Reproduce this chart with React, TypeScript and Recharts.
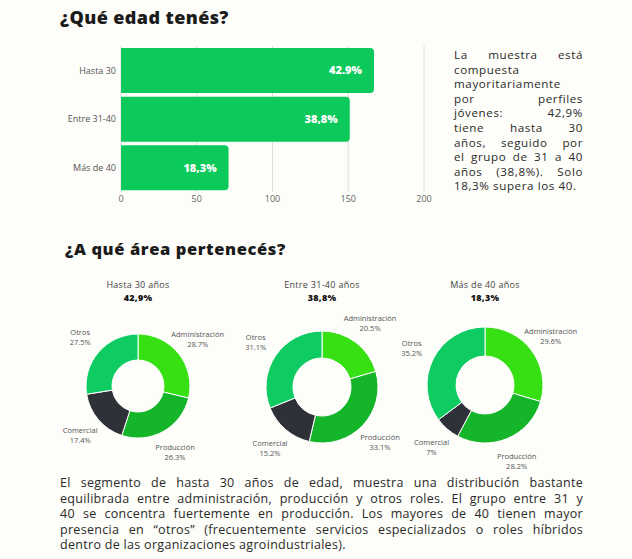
import { Bar, BarChart, CartesianGrid, LabelList, Pie, PieChart, Cell, XAxis, YAxis } from "recharts";

const FONT = "'Open Sans', sans-serif";

// edades
const ageCategories = ["Hasta 30", "Entre 31-40", "Más de 40"];
const ageCounts = [167, 151, 71];
const ageLabels = ["42.9%", "38,8%", "18,3%"];
const xTicks = [0, 50, 100, 150, 200];

// áreas por grupo
const areaNames = ["Administración", "Producción", "Comercial", "Otros"];
const areaColors = ["#36e013", "#15b52a", "#2e3238", "#0ecb62"];
const hasta30 = [28.7, 26.3, 17.4, 27.5];
const entre31a40 = [20.5, 33.1, 15.2, 31.1];
const masDe40 = [29.6, 28.2, 7, 35.2];
const groupTitles = ["Hasta 30 años", "Entre 31-40 años", "Más de 40 años"];
const groupShares = ["42,9%", "38,8%", "18,3%"];

const sideLines = [
  "La muestra está",
  "compuesta",
  "mayoritariamente",
  "por perfiles",
  "jóvenes: 42,9%",
  "tiene hasta 30",
  "años, seguido por",
  "el grupo de 31 a 40",
  "años (38,8%). Solo",
  "18,3% supera los 40.",
];

const bottomLines = [
  "El segmento de hasta 30 años de edad, muestra una distribución bastante",
  "equilibrada entre administración, producción y otros roles. El grupo entre 31 y",
  "40 se concentra fuertemente en producción. Los mayores de 40 tienen mayor",
  "presencia en “otros” (frecuentemente servicios especializados o roles híbridos",
  "dentro de las organizaciones agroindustriales).",
];

const barData = ageCategories.map((c, i) => ({ name: c, value: ageCounts[i], label: ageLabels[i] }));
const toPie = (vals: number[]) => areaNames.map((n, i) => ({ name: n, value: vals[i] }));

const pies = [
  { data: toPie(hasta30), cx: 138, cy: 126, inner: 26, outer: 52 },
  { data: toPie(entre31a40), cx: 322, cy: 127, inner: 29, outer: 56 },
  { data: toPie(masDe40), cx: 485, cy: 125, inner: 29, outer: 58 },
];

const RAD = Math.PI / 180;

const renderPieLabel = (p: any) => {
  const r = p.outerRadius + 24;
  const x = p.cx + r * Math.cos(-p.midAngle * RAD);
  const y = p.cy + r * Math.sin(-p.midAngle * RAD);
  return (
    <g>
      <text x={x} y={y - 2} textAnchor="middle" fontSize={7.5} fontFamily={FONT} fill="#555">
        {p.payload.name}
      </text>
      <text x={x} y={y + 8} textAnchor="middle" fontSize={7.5} fontFamily={FONT} fill="#555">
        {`${p.payload.value}%`}
      </text>
    </g>
  );
};

const Justified = ({ lines, style, lineHeight }: { lines: string[]; style: any; lineHeight: number }) => (
  <div style={style}>
    {lines.map((l, i) => (
      <div
        key={i}
        style={{
          height: lineHeight,
          lineHeight: `${lineHeight}px`,
          textAlign: "justify",
          textAlignLast: i === lines.length - 1 ? "left" : "justify",
          whiteSpace: "nowrap",
        }}
      >
        {l}
      </div>
    ))}
  </div>
);

export default function App() {
  return (
    <div style={{ position: "relative", width: 632, height: 559, background: "#fdfdf9", fontFamily: FONT, overflow: "hidden" }}>
      <style>{"body{margin:0;background:#fdfdf9}"}</style>

      <div style={{ position: "absolute", left: 60, top: 5, fontSize: 18, fontWeight: 800, color: "#1b1b1b", letterSpacing: 0.4 }}>
        ¿Qué edad tenés?
      </div>

      <div style={{ position: "absolute", left: 0, top: 0 }}>
        <BarChart
          width={440}
          height={215}
          data={barData}
          layout="vertical"
          margin={{ top: 46, right: 16, bottom: 0, left: 0 }}
          barCategoryGap={2}
        >
          <CartesianGrid horizontal={false} stroke="#dcdcdc" />
          <XAxis
            type="number"
            domain={[0, 200]}
            ticks={xTicks}
            axisLine={false}
            tickLine={false}
            tickSize={0}
            tickMargin={4}
            height={23}
            tick={{ fontSize: 9, fill: "#666", fontFamily: FONT }}
          />
          <YAxis
            type="category"
            dataKey="name"
            width={121}
            axisLine={false}
            tickLine={false}
            tickSize={0}
            tickMargin={5}
            tick={{ fontSize: 9, fill: "#555", fontFamily: FONT }}
          />
          <Bar dataKey="value" fill="#0bc95b" radius={[0, 4, 4, 0]} isAnimationActive={false}>
            <LabelList
              dataKey="label"
              position="insideRight"
              offset={12}
              style={{ fill: "#fff", fontSize: 11, fontWeight: 800, fontFamily: FONT }}
            />
          </Bar>
        </BarChart>
      </div>

      <Justified
        lines={sideLines}
        lineHeight={14.6}
        style={{ position: "absolute", left: 454, top: 48, width: 129, fontSize: 11.6, color: "#2a2a2a", letterSpacing: 0.6 }}
      />

      <div style={{ position: "absolute", left: 65, top: 237, fontSize: 16.5, fontWeight: 800, color: "#1b1b1b", letterSpacing: 0.6 }}>
        ¿A qué área pertenecés?
      </div>

      {groupTitles.map((t, i) => (
        <div
          key={t}
          style={{
            position: "absolute",
            left: pies[i].cx - 80,
            top: 279,
            width: 160,
            textAlign: "center",
            fontSize: 9,
            color: "#444",
            letterSpacing: 0.3,
          }}
        >
          <div style={{ height: 12.5, lineHeight: "12.5px" }}>{t}</div>
          <div style={{ height: 12.5, lineHeight: "12.5px", fontWeight: 800, color: "#111" }}>{groupShares[i]}</div>
        </div>
      ))}

      <div style={{ position: "absolute", left: 0, top: 260 }}>
        <PieChart width={632} height={214} margin={{ top: 0, right: 0, bottom: 0, left: 0 }}>
          {pies.map((p, k) => (
            <Pie
              key={k}
              data={p.data}
              dataKey="value"
              nameKey="name"
              cx={p.cx}
              cy={p.cy}
              innerRadius={p.inner}
              outerRadius={p.outer}
              startAngle={90}
              endAngle={-270}
              stroke="#fff"
              strokeWidth={1}
              labelLine={false}
              label={renderPieLabel}
              isAnimationActive={false}
            >
              {p.data.map((d, i) => (
                <Cell key={d.name} fill={areaColors[i]} />
              ))}
            </Pie>
          ))}
        </PieChart>
      </div>

      <Justified
        lines={bottomLines}
        lineHeight={15.6}
        style={{ position: "absolute", left: 60, top: 475, width: 523, fontSize: 12.5, color: "#2a2a2a", letterSpacing: 0.3 }}
      />
    </div>
  );
}
